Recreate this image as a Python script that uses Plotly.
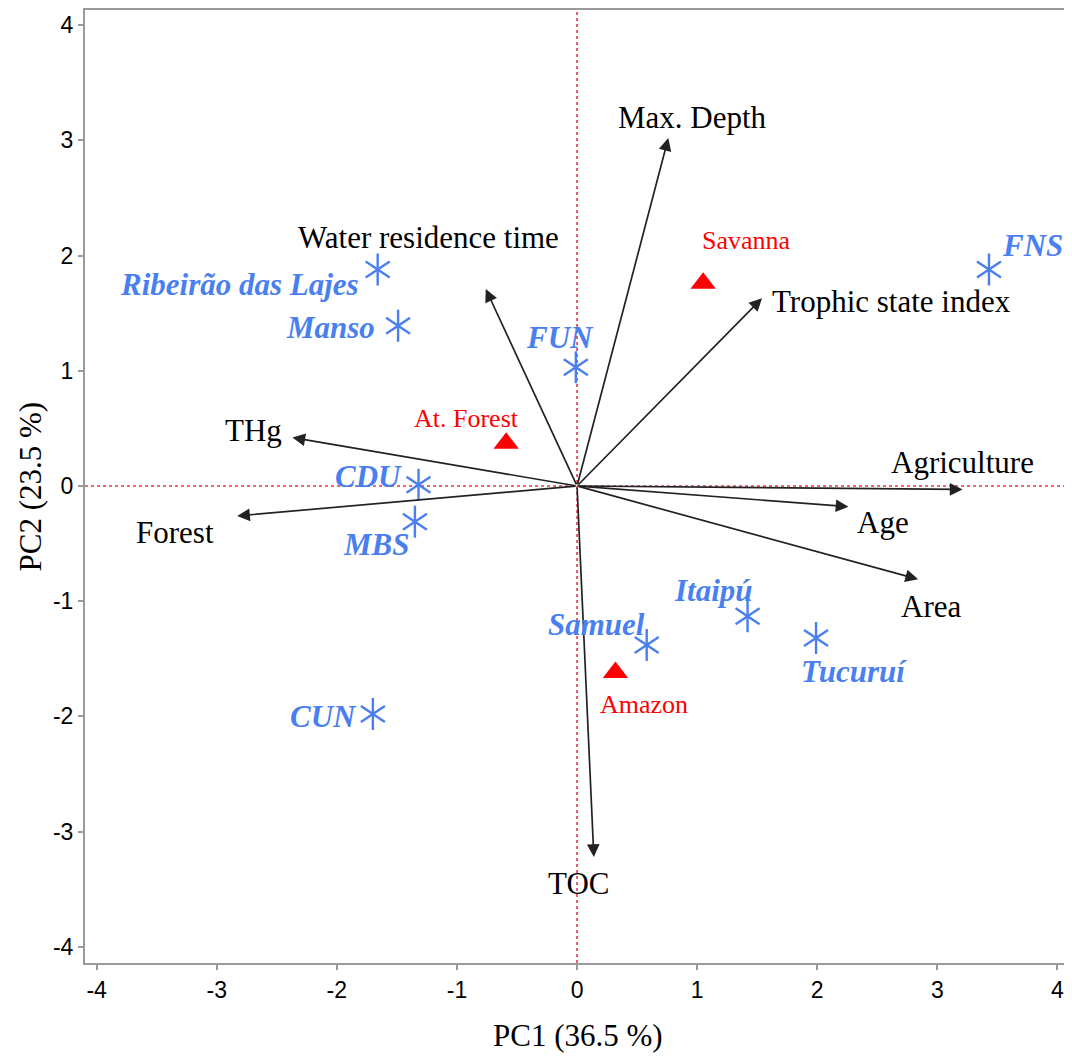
import plotly.graph_objects as go

# ---- data ----
var_names = ["Max. Depth", "Water residence time", "Trophic state index", "THg",
             "Agriculture", "Age", "Area", "Forest", "TOC"]
var_pc1 = [0.76, -0.76, 1.54, -2.37, 3.21, 2.26, 2.84, -2.83, 0.14]
var_pc2 = [3.02, 1.71, 1.63, 0.42, -0.03, -0.18, -0.81, -0.26, -3.22]

site_names = ["Ribeirão das Lajes", "Manso", "FUN", "CDU", "MBS", "CUN",
              "Samuel", "Itaipú", "Tucuruí", "FNS"]
site_pc1 = [-1.66, -1.49, -0.01, -1.32, -1.35, -1.70, 0.58, 1.42, 1.99, 3.43]
site_pc2 = [1.88, 1.39, 1.03, 0.01, -0.31, -1.98, -1.38, -1.13, -1.32, 1.88]

biome_names = ["Savanna", "At. Forest", "Amazon"]
biome_pc1 = [1.05, -0.59, 0.32]
biome_pc2 = [1.76, 0.37, -1.62]

x_ticks = [-4, -3, -2, -1, 0, 1, 2, 3, 4]
y_ticks = [-4, -3, -2, -1, 0, 1, 2, 3, 4]

x_title = "PC1 (36.5 %)"
y_title = "PC2 (23.5 %)"

# ---- label placement (styling) ----
var_label_pos = [(0.96, 3.20), (-1.24, 2.16), (2.62, 1.60), (-2.69, 0.48),
                 (3.21, 0.20), (2.55, -0.32), (2.95, -1.05), (-3.35, -0.40), (0.01, -3.45)]
site_label_pos = [(-2.81, 1.75), (-2.05, 1.38), (-0.14, 1.29), (-1.74, 0.08),
                  (-1.67, -0.51), (-2.11, -2.00), (0.16, -1.20), (1.14, -0.91),
                  (2.31, -1.61), (3.79, 2.09)]
biome_label_pos = [(1.41, 2.13), (-0.92, 0.59), (0.56, -1.90)]

SERIF = "Liberation Serif, Times New Roman, serif"
BLUE = "#4a7ff0"

fig = go.Figure()

# reference lines
fig.add_hline(y=0, line=dict(color="#ee3344", width=1.6, dash="dot"), layer="below")
fig.add_vline(x=0, line=dict(color="#ee3344", width=1.6, dash="dot"), layer="below")

# loading arrows
for n, x, y in zip(var_names, var_pc1, var_pc2):
    fig.add_annotation(x=x, y=y, ax=0, ay=0, xref="x", yref="y", axref="x", ayref="y",
                       showarrow=True, arrowhead=2, arrowsize=1.5, arrowwidth=1.7,
                       arrowcolor="#222222", text="")

# sites (six-armed asterisk built from two Y symbols)
for sym in ["y-up-open", "y-down-open"]:
    fig.add_trace(go.Scatter(x=site_pc1, y=site_pc2, mode="markers",
                             marker=dict(symbol=sym, size=20, color=BLUE,
                                         line=dict(color=BLUE, width=2.4)),
                             hovertext=site_names, showlegend=False))
# biomes
fig.add_trace(go.Scatter(x=biome_pc1, y=biome_pc2, mode="markers",
                         marker=dict(symbol="triangle-up", size=22, color="#ff0000"),
                         hovertext=biome_names, showlegend=False))

for n, (lx, ly) in zip(var_names, var_label_pos):
    fig.add_annotation(x=lx, y=ly, text=n, showarrow=False,
                       font=dict(family=SERIF, size=31, color="black"))
for n, (lx, ly) in zip(site_names, site_label_pos):
    fig.add_annotation(x=lx, y=ly, text=f"<b><i>{n}</i></b>", showarrow=False,
                       font=dict(family=SERIF, size=31, color=BLUE))
for n, (lx, ly) in zip(biome_names, biome_label_pos):
    fig.add_annotation(x=lx, y=ly, text=n, showarrow=False,
                       font=dict(family=SERIF, size=26, color="#ff0000"))

# axis titles
fig.add_annotation(x=0.5, y=0, xref="paper", yref="paper", text=x_title, showarrow=False,
                   xanchor="center", yanchor="middle", yshift=-72,
                   font=dict(family=SERIF, size=31, color="black"))
fig.add_annotation(x=0, y=0.5, xref="paper", yref="paper", text=y_title, showarrow=False,
                   xanchor="center", yanchor="middle", xshift=-55, textangle=-90,
                   font=dict(family=SERIF, size=31, color="black"))

axis_common = dict(showgrid=False, zeroline=False, showline=True, mirror=True,
                   linecolor="#9a9a9a", linewidth=2, ticks="outside", ticklen=5,
                   tickwidth=1.5, tickcolor="#9a9a9a", automargin=False,
                   tickfont=dict(family="Liberation Sans, Arial, sans-serif", size=23, color="black"))

fig.update_layout(
    width=1064, height=1048,
    margin=dict(l=77, r=1, t=2, b=93),
    plot_bgcolor="white", paper_bgcolor="white",
    xaxis=dict(range=[-4.097, 4.113], tickvals=x_ticks, ticktext=[str(t) for t in x_ticks],
               **axis_common),
    yaxis=dict(range=[-4.141, 4.132], tickvals=y_ticks, ticktext=[str(t) for t in y_ticks],
               **axis_common),
)

fig.write_html("out.html")
